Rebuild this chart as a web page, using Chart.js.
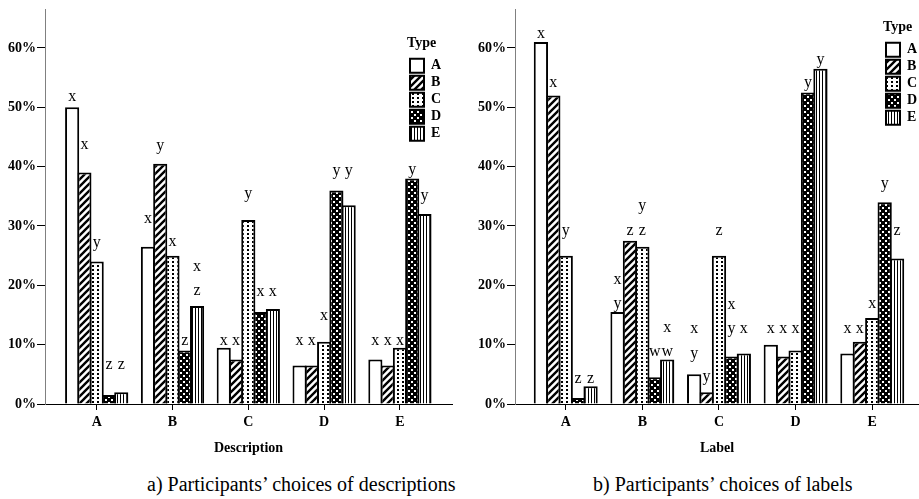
<!DOCTYPE html>
<html>
<head>
<meta charset="utf-8">
<script src="https://cdn.jsdelivr.net/npm/chart.js@4/dist/chart.umd.min.js"></script>
<style>
  body { margin: 0; background: #fff; }
  #page { position: relative; width: 919px; height: 499px; overflow: hidden; }
  canvas { position: absolute; top: 0; }
  .cap { position: absolute; top: 474px; font: 20px/20px 'Liberation Serif', 'Times New Roman', serif; color: #000; white-space: nowrap; }
</style>
</head>
<body>
<div id="page">
  <canvas id="descChart" width="459" height="460" style="left:0"></canvas>
  <canvas id="labelChart" width="460" height="460" style="left:459px"></canvas>
  <div class="cap" style="left:147px">a) Participants’ choices of descriptions</div>
  <div class="cap" style="left:593px">b) Participants’ choices of labels</div>
</div>
<script>
// categories on the x axis, and the five response types (one bar each)
const categories = ['A', 'B', 'C', 'D', 'E'];
const typeNames = ['A', 'B', 'C', 'D', 'E'];
const yTicks = [0, 10, 20, 30, 40, 50, 60];

// panel a) Description - percent per category, one array per type
const descA = [50, 26.5, 9.5, 6.5, 7.5];
const descB = [39, 40.5, 7.5, 6.5, 6.5];
const descC = [24, 25, 31, 10.5, 9.5];
const descD = [1.5, 9, 15.5, 36, 38];
const descE = [2, 16.5, 16, 33.5, 32];

// panel b) Label
const labelA = [61, 15.5, 5, 10, 8.5];
const labelB = [52, 27.5, 2, 8, 10.5];
const labelC = [25, 26.5, 25, 9, 14.5];
const labelD = [1, 4.5, 8, 52.5, 34];
const labelE = [3, 7.5, 8.5, 56.5, 24.5];

// significance letters over each bar (several letters = stacked, top first)
const descLetters = [
  ['x', 'x', 'x', 'x', 'x'],
  ['x', 'y', 'x', 'x', 'x'],
  ['y', 'x', 'y', 'x', 'x'],
  ['z', 'z', 'x', 'y', 'y'],
  ['z', 'xz', 'x', 'y', 'y']
];
// value (%) where the lowest letter of each stack sits
const descLetterAt = [
  [51.8, 31.2, 10.7, 10.7, 10.7],
  [43.6, 43.5, 10.7, 10.7, 10.7],
  [27.1, 27.3, 35.4, 14.8, 10.7],
  [6.5, 10.7, 18.9, 39.3, 39.4],
  [6.5, 19.0, 18.9, 39.3, 35.1]
];
const labelLetters = [
  ['x', 'xy', 'xy', 'x', 'x'],
  ['x', 'z', 'y', 'x', 'x'],
  ['y', 'yz', 'z', 'x', 'x'],
  ['z', 'w', 'xy', 'y', 'y'],
  ['z', 'xw', 'x', 'y', 'z']
];
const labelLetterAt = [
  [62.3, 16.8, 8.5, 12.6, 12.6],
  [54.1, 29.2, 4.5, 12.6, 12.6],
  [29.2, 29.2, 29.2, 12.6, 16.8],
  [4.2, 8.7, 12.6, 54.1, 37.1],
  [4.2, 8.7, 12.6, 58.0, 29.2]
];
const letterStep = 4.1;

const serif = "'Liberation Serif', 'Times New Roman', serif";
Chart.defaults.font.family = serif;
Chart.defaults.color = '#000';

// black & white fill patterns, one per type
function makeFill(kind) {
  if (kind === 'A') return '#fff';
  const c = document.createElement('canvas');
  const g = c.getContext('2d');
  if (kind === 'B') {
    c.width = c.height = 7;
    g.fillStyle = '#fff'; g.fillRect(0, 0, 7, 7);
    g.strokeStyle = '#000'; g.lineWidth = 2.4;
    g.beginPath();
    g.moveTo(-1, 8); g.lineTo(8, -1);
    g.moveTo(-4.5, 4.5); g.lineTo(4.5, -4.5);
    g.moveTo(2.5, 11.5); g.lineTo(11.5, 2.5);
    g.stroke();
  } else if (kind === 'C') {
    c.width = 5; c.height = 4;
    g.fillStyle = '#fff'; g.fillRect(0, 0, 5, 4);
    g.fillStyle = '#000'; g.fillRect(2, 1, 2, 2);
  } else if (kind === 'D') {
    c.width = c.height = 6;
    g.fillStyle = '#000'; g.fillRect(0, 0, 6, 6);
    g.fillStyle = '#fff'; g.fillRect(0, 0, 2, 2); g.fillRect(3, 3, 2, 2);
  } else {
    c.width = 3; c.height = 3;
    g.fillStyle = '#fff'; g.fillRect(0, 0, 3, 3);
    g.fillStyle = '#000'; g.fillRect(0, 0, 1, 3);
  }
  return g.createPattern(c, 'repeat');
}
const fills = typeNames.map(makeFill);

function buildDatasets(series) {
  return series.map((vals, i) => ({
    label: typeNames[i],
    data: vals.map((v, j) => ({ x: j + 1, y: v })),
    backgroundColor: fills[i],
    borderColor: '#000',
    borderWidth: 2
  }));
}

// draws the significance letters above the bars
function letterPlugin(letters, levels) {
  return {
    id: 'letters',
    afterDatasetsDraw(chart) {
      const { ctx } = chart;
      const y = chart.scales.y;
      ctx.save();
      ctx.font = '16px ' + serif;
      ctx.fillStyle = '#000';
      ctx.textAlign = 'center';
      ctx.textBaseline = 'alphabetic';
      letters.forEach((row, i) => {
        const bars = chart.getDatasetMeta(i).data;
        row.forEach((txt, j) => {
          const chars = txt.split('');
          chars.forEach((ch, k) => {
            const v = levels[i][j] + (chars.length - 1 - k) * letterStep;
            ctx.fillText(ch, bars[j].x, y.getPixelForValue(v) + 4);
          });
        });
      });
      ctx.restore();
    }
  };
}

// moves the legend box to its spot inside the plot
function legendSpot(x, top) {
  return {
    id: 'legendSpot',
    afterLayout(chart) {
      const lg = chart.legend;
      lg.left = x; lg.right = x + lg.width;
      lg.top = top; lg.bottom = top + 300;
    }
  };
}

function makeChart(id, series, title, letters, levels, opts) {
  new Chart(document.getElementById(id), {
    type: 'bar',
    data: { datasets: buildDatasets(series) },
    options: {
      responsive: false,
      animation: false,
      events: [],
      categoryPercentage: 0.81,
      barPercentage: 1.15,
      layout: { padding: opts.padding },
      plugins: {
        tooltip: { enabled: false },
        legend: {
          position: 'chartArea',
          align: 'start',
          title: { display: true, text: 'Type', position: 'start', font: { weight: 'bold', size: 14 }, padding: { top: 0, bottom: 3 } },
          labels: { boxWidth: 14, boxHeight: 14, padding: 3, font: { weight: 'bold', size: 14 }, color: '#000' }
        }
      },
      scales: {
        x: {
          type: 'linear',
          offset: false,
          min: opts.xMin,
          max: opts.xMax,
          afterBuildTicks: s => { s.ticks = categories.map((c, i) => ({ value: i + 1 })); },
          afterFit: s => { s.height = 56; },
          ticks: { callback: v => categories[v - 1], font: { weight: 'bold', size: 14 }, color: '#000', padding: 4, autoSkip: false, maxRotation: 0 },
          grid: { offset: false, drawOnChartArea: false, tickLength: 6, tickColor: '#000' },
          border: { color: '#000', width: 1 },
          title: { display: true, text: title, font: { weight: 'bold', size: 14 }, color: '#000', padding: { top: 0, bottom: 3 } }
        },
        y: {
          min: 0,
          max: 66.5,
          afterBuildTicks: s => { s.ticks = yTicks.map(v => ({ value: v })); },
          afterFit: s => { s.width = 45; },
          ticks: { callback: v => v + '%', font: { weight: 'bold', size: 14 }, color: '#000', padding: 1 },
          grid: { drawOnChartArea: false, tickLength: 8, tickColor: '#000' },
          border: { color: '#808080', width: 1 }
        }
      }
    },
    plugins: [letterPlugin(letters, levels), legendSpot(opts.legendX, opts.legendY)]
  });
}

makeChart('descChart', [descA, descB, descC, descD, descE], 'Description', descLetters, descLetterAt,
  { padding: { top: 7, left: 0, right: 7, bottom: 0 }, xMin: 0.318, xMax: 5.687, legendX: 407, legendY: 36 });
makeChart('labelChart', [labelA, labelB, labelC, labelD, labelE], 'Label', labelLetters, labelLetterAt,
  { padding: { top: 7, left: 11, right: 0, bottom: 0 }, xMin: 0.338, xMax: 5.61, legendX: 424, legendY: 20 });
</script>
</body>
</html>
